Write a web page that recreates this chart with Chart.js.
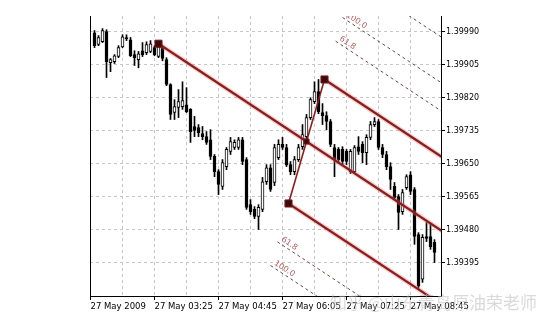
<!DOCTYPE html>
<html><head><meta charset="utf-8">
<script src="https://cdn.jsdelivr.net/npm/chart.js@4.4.1/dist/chart.umd.min.js"></script>
<style>html,body{margin:0;padding:0;background:#fff}canvas{display:block}</style>
</head><body>
<canvas id="c" width="542" height="324"></canvas>
<script>
// M5 bars, index 0 = first visible candle
const opens = [1.39987,1.39957,1.39964,1.39990,1.39910,1.39913,1.39926,1.39951,1.39975,1.39969,
  1.39931,1.39918,1.39941,1.39936,1.39939,1.39949,1.39926,1.39949,1.39918,1.39854,
  1.39782,1.39795,1.39797,1.39802,1.39790,1.39746,1.39743,1.39728,1.39720,1.39712,
  1.39669,1.39630,1.39592,1.39643,1.39682,1.39692,1.39692,1.39712,1.39661,1.39545,
  1.39533,1.39515,1.39533,1.39604,1.39640,1.39602,1.39666,1.39700,1.39692,1.39648,
  1.39630,1.39661,1.39694,1.39720,1.39769,1.39810,1.39836,1.39782,1.39774,1.39759,
  1.39692,1.39687,1.39687,1.39682,1.39630,1.39630,1.39694,1.39700,1.39679,1.39718,
  1.39751,1.39759,1.39692,1.39674,1.39643,1.39592,1.39566,1.39527,1.39589,1.39622,
  1.39584,1.39468,1.39353,1.39463,1.39463,1.39448];
const highs = [1.39993,1.39980,1.39998,1.39995,1.39921,1.39931,1.39954,1.39982,1.39982,1.39975,
  1.39941,1.39939,1.39962,1.39964,1.39967,1.39954,1.39959,1.39954,1.39923,1.39856,
  1.39815,1.39841,1.39861,1.39846,1.39792,1.39772,1.39751,1.39746,1.39733,1.39738,
  1.39674,1.39635,1.39661,1.39692,1.39718,1.39712,1.39718,1.39718,1.39666,1.39558,
  1.39540,1.39545,1.39615,1.39648,1.39648,1.39700,1.39712,1.39718,1.39700,1.39656,
  1.39669,1.39700,1.39751,1.39777,1.39820,1.39861,1.39867,1.39805,1.39784,1.39764,
  1.39700,1.39692,1.39694,1.39687,1.39687,1.39697,1.39720,1.39707,1.39725,1.39759,
  1.39769,1.39764,1.39700,1.39682,1.39653,1.39602,1.39571,1.39584,1.39622,1.39630,
  1.39589,1.39473,1.39468,1.39499,1.39497,1.39455];
const lows = [1.39949,1.39954,1.39962,1.39872,1.39887,1.39908,1.39923,1.39949,1.39967,1.39926,
  1.39903,1.39897,1.39926,1.39931,1.39936,1.39928,1.39923,1.39915,1.39851,1.39764,
  1.39764,1.39769,1.39790,1.39782,1.39705,1.39720,1.39720,1.39712,1.39700,1.39661,
  1.39617,1.39571,1.39584,1.39635,1.39674,1.39687,1.39687,1.39648,1.39533,1.39520,
  1.39509,1.39481,1.39527,1.39597,1.39579,1.39594,1.39661,1.39687,1.39643,1.39622,
  1.39622,1.39656,1.39687,1.39712,1.39764,1.39805,1.39779,1.39751,1.39738,1.39694,
  1.39617,1.39653,1.39648,1.39648,1.39625,1.39625,1.39674,1.39653,1.39648,1.39712,
  1.39746,1.39687,1.39666,1.39635,1.39584,1.39558,1.39481,1.39520,1.39584,1.39571,
  1.39443,1.39327,1.39345,1.39450,1.39430,1.39396];
const closes = [1.39954,1.39975,1.39993,1.39913,1.39918,1.39928,1.39949,1.39977,1.39972,1.39928,
  1.39923,1.39933,1.39931,1.39957,1.39959,1.39931,1.39951,1.39921,1.39854,1.39777,
  1.39797,1.39810,1.39813,1.39784,1.39733,1.39736,1.39730,1.39720,1.39705,1.39669,
  1.39630,1.39597,1.39653,1.39687,1.39707,1.39705,1.39712,1.39656,1.39538,1.39527,
  1.39515,1.39538,1.39604,1.39640,1.39584,1.39692,1.39700,1.39692,1.39648,1.39630,
  1.39661,1.39692,1.39725,1.39769,1.39815,1.39836,1.39784,1.39774,1.39759,1.39700,
  1.39661,1.39661,1.39656,1.39656,1.39682,1.39692,1.39682,1.39679,1.39718,1.39751,
  1.39759,1.39692,1.39674,1.39643,1.39610,1.39563,1.39525,1.39576,1.39617,1.39579,
  1.39463,1.39335,1.39461,1.39458,1.39437,1.39422];
const yTicks = [1.39395,1.39480,1.39565,1.39650,1.39735,1.39820,1.39905,1.39990];
const xTickBars = [-1,15,31,47,63,79];
const xTickLabels = ['27 May 2009','27 May 03:25','27 May 04:45','27 May 06:05','27 May 07:25','27 May 08:45'];
// pitchfork anchors (bar index, price)
const pfBars = [16, 57.5, 48.5];
const pfPrices = [1.39959, 1.39867, 1.39548];
const fibLevels = [0.618, 1.0, 1.618];
const fibNames = ['61.8', '100.0', '161.8'];

const X_MIN = -1.125, X_MAX = 86.625;
const LINE = '#8c1d1d', HALO = 'rgba(222,130,130,0.35)';
const mid = { x: (pfBars[1]+pfBars[2])/2, y: (pfPrices[1]+pfPrices[2])/2 };
const slope = (mid.y - pfPrices[0]) / (mid.x - pfBars[0]);
const ray = (x, y) => [{x, y}, {x: X_MAX + 1, y: y + slope*(X_MAX + 1 - x)}];

const fibStarts = [];
fibLevels.forEach((f, k) => {
  fibStarts.push({ x: pfBars[1] + f*(pfBars[1]-mid.x), y: pfPrices[1] + f*(pfPrices[1]-mid.y), name: fibNames[k] });
  fibStarts.push({ x: pfBars[2] + f*(pfBars[2]-mid.x), y: pfPrices[2] + f*(pfPrices[2]-mid.y), name: fibNames[k] });
});

const lineDs = (data, color, width, order, extra) => Object.assign({
  type: 'line', data, borderColor: color, borderWidth: width, pointRadius: 0, clip: 0, order, tension: 0
}, extra || {});

const mainRays = [ray(pfBars[0], pfPrices[0]), ray(pfBars[1], pfPrices[1]), ray(pfBars[2], pfPrices[2])];
const datasets = [
  { type: 'bar', data: opens.map((o,i)=> ({x: i, y: [o, closes[i]]})),
    backgroundColor: c => { const i = c.dataIndex; return closes[i] >= opens[i] ? '#fff' : '#000'; },
    borderColor: '#000', borderWidth: 1, borderSkipped: false, grouped: false,
    barThickness: 3, maxBarThickness: 3, minBarLength: 1, order: 5 },
  { type: 'bar', data: lows.map((l,i)=> ({x: i, y: [l, highs[i]]})),
    backgroundColor: '#000', borderWidth: 0, grouped: false,
    barThickness: 1, maxBarThickness: 1, order: 6 },
];
fibStarts.forEach(s => datasets.push(lineDs(ray(s.x, s.y), '#6d4545', 1, 4, { borderDash: [3,3] })));
mainRays.forEach(r => datasets.push(lineDs(r, HALO, 5, 3)));
mainRays.forEach(r => datasets.push(lineDs(r, LINE, 2.2, 2)));
datasets.push(lineDs([{x: pfBars[2], y: pfPrices[2]}, {x: pfBars[1], y: pfPrices[1]}], LINE, 1.6, 2));
datasets.push(lineDs(pfBars.map((b,i)=> ({x: b, y: pfPrices[i]})), LINE, 0, 1,
  { showLine: false, pointRadius: 5, pointStyle: 'rect', pointBackgroundColor: '#3b0b0b', pointBorderColor: '#7a1a1a', pointBorderWidth: 1 }));
datasets.push(lineDs([mid], LINE, 0, 1,
  { showLine: false, pointRadius: 3.6, pointStyle: 'rect', pointBackgroundColor: '#3b0b0b', pointBorderColor: '#7a1a1a', pointBorderWidth: 1 }));

const fibLabels = {
  id: 'fibLabels',
  afterDatasetsDraw(chart){
    const {ctx, chartArea: a, scales: {x, y}} = chart;
    ctx.save();
    ctx.beginPath(); ctx.rect(a.left, a.top, a.right - a.left, a.bottom - a.top); ctx.clip();
    ctx.font = '8px "DejaVu Sans"'; ctx.fillStyle = '#b25a5a'; ctx.textBaseline = 'bottom';
    fibStarts.forEach(s => {
      const px = x.getPixelForValue(s.x), py = y.getPixelForValue(s.y);
      const ang = Math.atan2(y.getPixelForValue(s.y + slope) - py, x.getPixelForValue(s.x + 1) - px);
      ctx.save(); ctx.translate(px, py); ctx.rotate(ang); ctx.fillText(s.name, 2, -1); ctx.restore();
    });
    ctx.restore();
  }
};
const watermark = {
  id: 'watermark',
  afterDraw(chart){
    const ctx = chart.ctx;
    ctx.save();
    ctx.font = '17px "Noto Sans CJK SC"'; ctx.fillStyle = 'rgba(185,185,185,0.55)'; ctx.textBaseline = 'alphabetic';
    ctx.fillText('知乎 @山东青岛原油荣老师', 330, 309);
    ctx.restore();
  }
};

new Chart(document.getElementById('c'), {
  type: 'bar',
  data: { datasets },
  options: {
    responsive: false, animation: false, devicePixelRatio: 1,
    layout: { padding: { left: 90, top: 16, right: 0, bottom: 0 } },
    plugins: { legend: { display: false }, tooltip: { enabled: false } },
    scales: {
      x: { type: 'linear', min: X_MIN, max: X_MAX, offset: false,
        afterFit: s => { s.height = 28; },
        afterBuildTicks: s => { const t = []; for (let v = -1; v <= X_MAX; v += 8) t.push({value: v}); s.ticks = t; },
        ticks: { autoSkip: false, maxRotation: 0, align: 'start', padding: 2, color: '#000',
          font: { family: 'DejaVu Sans', size: 8.5 },
          callback: v => { const k = xTickBars.indexOf(v); return k >= 0 ? xTickLabels[k] : ''; } },
        grid: { color: '#c6c6c6', lineWidth: 1, tickLength: 4, offset: false,
          tickColor: c => (c.tick && xTickBars.includes(c.tick.value)) ? '#000' : 'rgba(0,0,0,0)' },
        border: { color: '#000', width: 1, dash: [3,3] } },
      y: { type: 'linear', position: 'right', min: 1.3931, max: 1.400303, beginAtZero: false,
        afterFit: s => { s.width = 101; },
        afterBuildTicks: s => { s.ticks = yTicks.map(v => ({value: v})); },
        ticks: { padding: 1, color: '#000', font: { family: 'DejaVu Sans', size: 8 }, callback: v => v.toFixed(5) },
        grid: { color: '#c6c6c6', lineWidth: 1, tickLength: 4, tickColor: '#000' },
        border: { color: '#000', width: 1, dash: [3,3] } },
      yl: { type: 'linear', position: 'left', afterFit: s => { s.width = 0; },
        ticks: { display: false }, grid: { drawOnChartArea: false, drawTicks: false },
        border: { color: '#000', width: 1 } }
    }
  },
  plugins: [fibLabels, watermark]
});
</script>
</body></html>
